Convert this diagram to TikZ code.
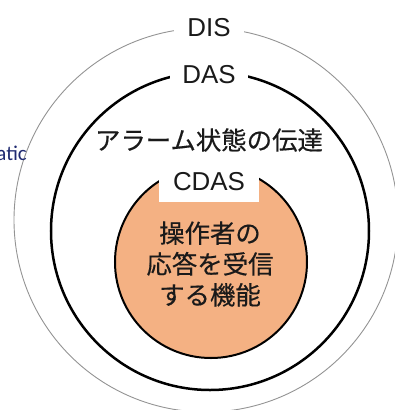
\documentclass[tikz,border=0pt]{standalone}
\usepackage{fontspec}
\setmainfont{Liberation Sans}
\newfontfamily\jpfont[FakeBold=0.4]{Noto Sans CJK JP}
\newfontfamily\calfont{Carlito}
\definecolor{orfill}{HTML}{F4B183}
\definecolor{navytext}{HTML}{1F2A70}
\definecolor{txt}{HTML}{1A1A1A}
\begin{document}
\begin{tikzpicture}[x=1bp,y=-1bp,
  ring/.style={circle,draw,inner sep=0pt},
  lbl/.style={fill=white,text=txt,font=\fontsize{26}{30}\selectfont,inner ysep=3bp},
  jp/.style={text=txt,font=\jpfont\fontsize{25.5}{31}\selectfont,align=center}]
\useasboundingbox (0,0) rectangle (395,410);
\node[ring, draw=gray!85, line width=0.9bp, minimum size=384bp] (dis) at (206,220) {};
\node[ring, line width=2.5bp, minimum size=318bp] (das) at (210,231) {};
\node[ring, fill=orfill, line width=2bp, minimum size=192bp] (cdas) at (211,262) {};
\node[lbl, inner xsep=13bp] (dislbl) at (209,28) {DIS};
\node[lbl, inner xsep=12bp] (daslbl) at (209,75) {DAS};
\node[jp] (alarm) at (209,140) {アラーム状態の伝達};
\node[lbl, minimum width=100bp, minimum height=40bp] (cdaslbl) at (209,182) {CDAS};
\node[jp] (func) at (210,264) {操作者の\\応答を受信\\する機能};
\node[font=\calfont\fontsize{21}{24}\selectfont, text=navytext, anchor=east, inner sep=0pt] (atic) at (27,153) {atic};
\end{tikzpicture}
\end{document}
